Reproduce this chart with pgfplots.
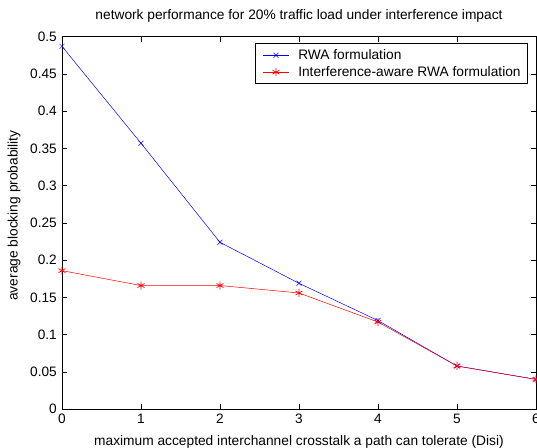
\documentclass[border=0pt]{standalone}
\usepackage{fontspec}
\setmainfont{Liberation Sans}
\usepackage{pgfplots}
\pgfplotsset{compat=1.18}
\definecolor{mblue}{RGB}{0,0,255}
\definecolor{mred}{RGB}{255,0,0}
\begin{document}
\begin{tikzpicture}[x=1bp,y=1bp]
\begin{axis}[
  at={(0,0)}, anchor=south west,
  width=474bp, height=372.5bp, scale only axis,
  xmin=0, xmax=6, ymin=0, ymax=0.5,
  xtick={0,1,2,3,4,5,6},
  xticklabels={0,1,2,3,4,5,6},
  ytick={0,0.05,0.1,0.15,0.2,0.25,0.3,0.35,0.4,0.45,0.5},
  yticklabels={0,0.05,0.1,0.15,0.2,0.25,0.3,0.35,0.4,0.45,0.5},
  /pgf/number format/assume math mode=true,
  tick align=inside,
  major tick length=5bp,
  tick style={black, line width=0.5bp},
  axis line style={black, line width=0.6bp},
  ticklabel style={font=\fontsize{13.7}{16}\selectfont},
  yticklabel style={inner sep=0pt, anchor=east, xshift=-5bp},
  xticklabel style={inner sep=0pt, anchor=north, yshift=-5bp},
  title={network performance for 20\% traffic load under interference impact},
  title style={font=\fontsize{13.8}{16}\selectfont, at={(axis description cs:0.5,1)}, anchor=base, yshift=11.7bp, inner sep=0pt},
  xlabel={maximum accepted interchannel crosstalk a path can tolerate (Disi)},
  xlabel style={font=\fontsize{13.8}{16}\selectfont, at={(axis description cs:0.5,0)}, anchor=base, yshift=-35.8bp, inner sep=0pt},
  ylabel={average blocking probability},
  ylabel style={font=\fontsize{13.8}{16}\selectfont, at={(axis description cs:-0.1013,0.52)}, anchor=center, inner sep=0pt},
  legend style={at={(axis description cs:0.983,0.982)}, anchor=north east, draw=black, line width=0.6bp,
    font=\fontsize{13.8}{16}\selectfont, row sep=5.5bp, column sep=9bp, inner xsep=7bp, inner ysep=5.8bp,
    nodes={inner sep=0pt}, cells={anchor=west}},
  legend image code/.code={\draw[mark repeat=2,mark phase=2] plot coordinates {(0bp,0bp) (13bp,0bp) (26bp,0bp)};},
]
\addplot[color=mblue, line width=0.5bp, mark=x, mark size=3.5bp, mark options={line width=0.5bp}]
  coordinates {(0,0.487) (1,0.357) (2,0.224) (3,0.169) (4,0.119) (5,0.058) (6,0.040)};
\addlegendentry{RWA formulation}
\addplot[color=mred, line width=0.5bp, mark=asterisk, mark size=4bp, mark options={line width=0.7bp}]
  coordinates {(0,0.186) (1,0.166) (2,0.166) (3,0.156) (4,0.117) (5,0.058) (6,0.040)};
\addlegendentry{Interference-aware RWA formulation\hspace{10bp}}
\end{axis}
\pgfresetboundingbox
\useasboundingbox (-62bp,-38bp) rectangle (475bp,409.2bp);
\end{tikzpicture}
\end{document}
